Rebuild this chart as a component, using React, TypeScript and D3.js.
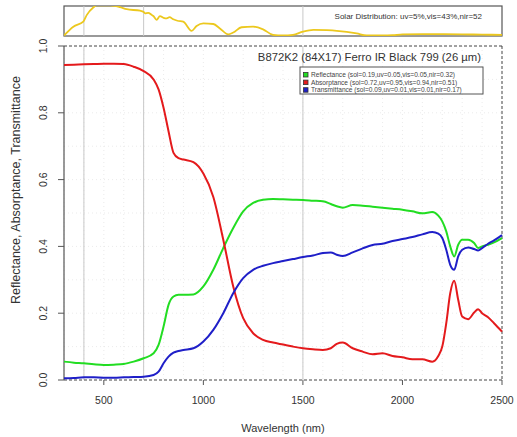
import * as d3 from 'd3';

// wavelength grid (nm) shared by the three measured curves
const WL = [300, 350, 400, 450, 500, 550, 600, 650, 700, 750, 775, 800, 825, 850, 875, 900, 950, 1000, 1050, 1100, 1150, 1200, 1250, 1300, 1350, 1400, 1450, 1500, 1550, 1600, 1640, 1670, 1700, 1750, 1800, 1850, 1900, 1950, 2000, 2050, 2100, 2150, 2180, 2200, 2220, 2240, 2260, 2280, 2300, 2330, 2360, 2380, 2400, 2430, 2460, 2500];

const REFLECTANCE = [0.055, 0.052, 0.05, 0.047, 0.045, 0.046, 0.048, 0.055, 0.065, 0.08, 0.105, 0.16, 0.225, 0.25, 0.255, 0.255, 0.256, 0.28, 0.33, 0.395, 0.455, 0.505, 0.53, 0.54, 0.542, 0.541, 0.54, 0.539, 0.537, 0.535, 0.527, 0.52, 0.516, 0.524, 0.522, 0.519, 0.516, 0.513, 0.51, 0.505, 0.499, 0.503, 0.492, 0.475, 0.445, 0.4, 0.37, 0.405, 0.42, 0.42, 0.41, 0.395, 0.4, 0.405, 0.412, 0.425];

const ABSORPTANCE = [0.943, 0.944, 0.945, 0.946, 0.947, 0.947, 0.946, 0.938, 0.925, 0.9, 0.87, 0.815, 0.745, 0.68, 0.664, 0.66, 0.652, 0.618, 0.548, 0.42, 0.28, 0.185, 0.14, 0.12, 0.112, 0.106, 0.1, 0.095, 0.092, 0.09, 0.095, 0.108, 0.112, 0.095, 0.085, 0.077, 0.08, 0.072, 0.068, 0.062, 0.062, 0.055, 0.072, 0.1, 0.17, 0.26, 0.297, 0.24, 0.19, 0.182, 0.202, 0.212, 0.2, 0.188, 0.17, 0.145];

const TRANSMITTANCE = [0.005, 0.006, 0.008, 0.008, 0.007, 0.007, 0.008, 0.009, 0.01, 0.015, 0.025, 0.05, 0.07, 0.082, 0.087, 0.09, 0.095, 0.115, 0.15, 0.2, 0.26, 0.305, 0.33, 0.342, 0.35, 0.356, 0.362, 0.368, 0.373, 0.38, 0.382, 0.375, 0.371, 0.382, 0.394, 0.404, 0.408, 0.416, 0.422, 0.428, 0.436, 0.443, 0.438, 0.425, 0.39, 0.345, 0.33, 0.37, 0.39, 0.397, 0.392, 0.388, 0.395, 0.408, 0.418, 0.434];

// solar spectrum (relative, clipped at panel top)
const SOLAR_WL = [300, 347, 397, 414, 447, 464, 500, 531, 581, 615, 682, 700, 707, 723, 740, 749, 765, 782, 800, 816, 830, 849, 870, 899, 941, 966, 1000, 1050, 1083, 1125, 1150, 1192, 1250, 1300, 1350, 1400, 1450, 1500, 1553, 1620, 1670, 1770, 1820, 1900, 1950, 2000, 2100, 2200, 2300, 2400, 2500];
const SOLAR = [0, 0.3, 0.47, 0.69, 0.95, 1.02, 1.02, 1.02, 0.96, 0.89, 0.84, 0.8, 0.75, 0.77, 0.7, 0.66, 0.53, 0.66, 0.6, 0.58, 0.62, 0.55, 0.5, 0.47, 0.16, 0.32, 0.41, 0.39, 0.24, 0.04, 0.1, 0.28, 0.3, 0.21, 0.02, 0, 0.02, 0.13, 0.19, 0.18, 0.16, 0.07, 0, 0, 0.01, 0.04, 0.05, 0.045, 0.04, 0.03, 0.02];

const X_TICKS = [500, 1000, 1500, 2000, 2500];
const Y_TICKS = [0, 0.2, 0.4, 0.6, 0.8, 1.0];
const BAND_LINES = [400, 700, 1500];

const SERIES = [
  { name: 'Reflectance (sol=0.19,uv=0.05,vis=0.05,nir=0.32)', values: REFLECTANCE, color: '#22dd22' },
  { name: 'Absorptance (sol=0.72,uv=0.95,vis=0.94,nir=0.51)', values: ABSORPTANCE, color: '#e41a1c' },
  { name: 'Transmittance (sol=0.09,uv=0.01,vis=0.01,nir=0.17)', values: TRANSMITTANCE, color: '#1f1fc8' },
];

const FONT = '"Liberation Sans", Arial, sans-serif';

export default function App() {
  const width = 517;
  const height = 437;
  const left = 64, right = 502, top = 46, bottom = 380;

  const x = d3.scaleLinear().domain([300, 2500]).range([left, right]);
  const y = d3.scaleLinear().domain([0, 1]).range([bottom, top]);
  const ySol = d3.scaleLinear().domain([0, 1]).range([35.5, 6]);

  const line = d3.line<number>()
    .x((_, i) => x(WL[i]))
    .y(d => y(d))
    .curve(d3.curveMonotoneX);

  const solarLine = d3.line<number>()
    .x((_, i) => x(SOLAR_WL[i]))
    .y(d => ySol(d))
    .curve(d3.curveMonotoneX);

  const gridX = d3.range(300, 2501, 100);
  const gridY = d3.range(0.1, 1.0, 0.1);

  return (
    <svg width={width} height={height} style={{ position: 'absolute', left: 0, top: 0, background: '#fff' }} fontFamily={FONT}>
      <defs>
        <clipPath id="solclip">
          <rect x={left} y={6} width={right - left} height={30} />
        </clipPath>
      </defs>

      {/* solar panel */}
      <rect x={left} y={6} width={right - left} height={30} fill="#fff" stroke="#555" strokeWidth={1.2} />
      {BAND_LINES.map(b => (
        <line key={'s' + b} x1={x(b)} x2={x(b)} y1={6} y2={36} stroke="#c8c8c8" strokeWidth={1} />
      ))}
      <path d={solarLine(SOLAR) ?? ''} fill="none" stroke="#ecc81e" strokeWidth={1.8} clipPath="url(#solclip)" />
      <text x={482} y={19} fontSize={8} fill="#333" textAnchor="end">Solar Distribution: uv=5%,vis=43%,nir=52</text>

      {/* faint dotted grid */}
      {gridX.map(g => (
        <line key={'gx' + g} x1={x(g)} x2={x(g)} y1={top} y2={bottom} stroke="#e6e6e6" strokeWidth={0.8} strokeDasharray="1,3" />
      ))}
      {gridY.map(g => (
        <line key={'gy' + g} x1={left} x2={right} y1={y(g)} y2={y(g)} stroke="#e6e6e6" strokeWidth={0.8} strokeDasharray="1,3" />
      ))}
      {BAND_LINES.map(b => (
        <line key={'b' + b} x1={x(b)} x2={x(b)} y1={top} y2={bottom} stroke="#c8c8c8" strokeWidth={1} />
      ))}

      {/* dashed frame */}
      <line x1={left} x2={right} y1={top} y2={top} stroke="#444" strokeWidth={1} strokeDasharray="3,2" />
      <line x1={right} x2={right} y1={top} y2={bottom} stroke="#444" strokeWidth={1} strokeDasharray="3,2" />
      <line x1={left} x2={right} y1={bottom} y2={bottom} stroke="#444" strokeWidth={1} strokeDasharray="3,2" />
      <line x1={left} x2={left} y1={top} y2={bottom} stroke="#555" strokeWidth={1.2} />

      {/* curves */}
      {SERIES.map(s => (
        <path key={s.name} d={line(s.values) ?? ''} fill="none" stroke={s.color} strokeWidth={2} />
      ))}

      {/* x axis */}
      {X_TICKS.map(t => (
        <g key={'xt' + t}>
          <line x1={x(t)} x2={x(t)} y1={bottom} y2={bottom + 5} stroke="#555" strokeWidth={1} />
          <text x={x(t)} y={404} fontSize={10.5} fill="#333" textAnchor="middle">{t}</text>
        </g>
      ))}
      <text x={x(1500) - 20} y={432} fontSize={11} fill="#333" textAnchor="middle">Wavelength (nm)</text>

      {/* y axis */}
      {Y_TICKS.map(t => (
        <g key={'yt' + t}>
          <line x1={left - 6} x2={left} y1={y(t)} y2={y(t)} stroke="#555" strokeWidth={1} />
          <text transform={`translate(47,${y(t)}) rotate(-90)`} fontSize={10.5} fill="#333" textAnchor="middle">{t.toFixed(1)}</text>
        </g>
      ))}
      <text transform="translate(20,190) rotate(-90)" fontSize={12.5} fill="#333" textAnchor="middle">Reflectance, Absorptance, Transmittance</text>

      {/* title */}
      <text x={481} y={61} fontSize={11.3} fill="#333" textAnchor="end">B872K2 (84X17) Ferro IR Black 799 (26 µm)</text>

      {/* legend */}
      <rect x={300} y={67} width={183} height={27} fill="#fff" stroke="#555" strokeWidth={1} />
      {SERIES.map((s, i) => (
        <g key={'lg' + i}>
          <rect x={303.5} y={72.5 + i * 7.6} width={4.5} height={4.5} fill={s.color} stroke="#333" strokeWidth={0.8} />
          <text x={311} y={77 + i * 7.6} fontSize={6.6} fill="#444">{s.name}</text>
        </g>
      ))}
    </svg>
  );
}
